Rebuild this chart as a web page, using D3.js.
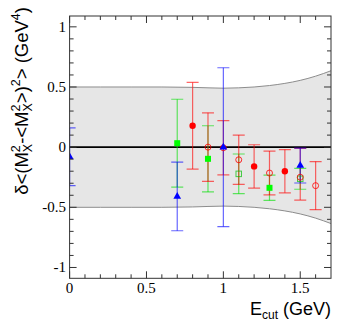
<!DOCTYPE html>
<html><head><meta charset="utf-8">
<script src="https://cdn.jsdelivr.net/npm/d3@7"></script>
<style>body{margin:0;background:#fff}svg{display:block}</style>
</head><body><svg id="c" width="349" height="332"></svg>
<script>
// ---- data ----
const xTicks = [0, 0.5, 1, 1.5];
const yTicks = [-1, -0.5, 0, 0.5, 1];
const xTickLabels = ["0", "0.5", "1", "1.5"];
const yTickLabels = ["-1", "-0.5", "0", "0.5", "1"];

const bandX  = [0, 0.2, 0.4, 0.6, 0.8, 0.9, 1.0, 1.1, 1.2, 1.3, 1.4, 1.5, 1.6, 1.7];
const bandHi = [0.5, 0.5, 0.5, 0.5, 0.497, 0.493, 0.49, 0.493, 0.5, 0.512, 0.53, 0.555, 0.59, 0.635];
const bandLo = [-0.5, -0.5, -0.5, -0.5, -0.497, -0.493, -0.49, -0.493, -0.5, -0.512, -0.53, -0.555, -0.59, -0.635];

// green filled squares
const gFillX = [0.7, 0.9, 1.3];
const gFillY = [0.033, -0.097, -0.338];
const gFillErr = [0.365, 0.275, 0.105];
// green open squares
const gOpenX = [1.1, 1.5];
const gOpenY = [-0.222, -0.263];
const gOpenErr = [0.165, 0.087];
// red filled circles
const rFillX = [0.8, 1.2, 1.4];
const rFillY = [0.178, -0.16, -0.2];
const rFillErr = [0.36, 0.18, 0.18];
// red open circles
const rOpenX = [0.9, 1.0, 1.1, 1.3, 1.5, 1.6];
const rOpenY = [0.0, -0.005, -0.105, -0.215, -0.25, -0.32];
const rOpenErrUp = [0.285, 0.225, 0.205, 0.182, 0.24, 0.2];
const rOpenErrDn = [0.285, 0.225, 0.205, 0.182, 0.19, 0.2];
// blue filled triangles
const bX = [0, 0.7, 1.0, 1.5];
const bY = [-0.08, -0.41, 0.0, -0.153];
const bErr = [0.24, 0.285, 0.66, 0.145];

// ---- scales ----
const L = 69.6, R = 331, T = 16, B = 278.3;
const x = d3.scaleLinear().domain([0, 1.7]).range([L, R]);
const y = d3.scaleLinear().domain([-1.09, 1.09]).range([B, T]);

const svg = d3.select("#c");
svg.append("defs").append("clipPath").attr("id", "clip")
  .append("rect").attr("x", L).attr("y", T).attr("width", R - L).attr("height", B - T);
const plot = svg.append("g").attr("clip-path", "url(#clip)");

// band
const bandData = bandX.map((v, i) => ({x: v, hi: bandHi[i], lo: bandLo[i]}));
plot.append("path").datum(bandData)
  .attr("d", d3.area().x(d => x(d.x)).y0(d => y(d.lo)).y1(d => y(d.hi)).curve(d3.curveMonotoneX))
  .attr("fill", "#e6e6e6");
["hi", "lo"].forEach(k => {
  plot.append("path").datum(bandData)
    .attr("d", d3.line().x(d => x(d.x)).y(d => y(d[k])).curve(d3.curveMonotoneX))
    .attr("fill", "none").attr("stroke", "#8c8c8c").attr("stroke-width", 1);
});
// zero line
plot.append("line").attr("x1", x(0)).attr("x2", x(1.7)).attr("y1", y(0)).attr("y2", y(0))
  .attr("stroke", "#000").attr("stroke-width", 1.6);

const cap = 6;
function errBars(xs, ys, up, dn, color) {
  const g = plot.append("g").attr("stroke", color).attr("stroke-opacity", 0.6).attr("stroke-width", 1.2);
  xs.forEach((v, i) => {
    const top = y(ys[i] + up[i]), bot = y(ys[i] - dn[i]), cx = x(v);
    g.append("line").attr("x1", cx).attr("x2", cx).attr("y1", top).attr("y2", bot);
    g.append("line").attr("x1", cx - cap).attr("x2", cx + cap).attr("y1", top).attr("y2", top);
    g.append("line").attr("x1", cx - cap).attr("x2", cx + cap).attr("y1", bot).attr("y2", bot);
  });
}
function squares(xs, ys, color, filled) {
  const s = filled ? 6 : 5.5;
  plot.append("g").selectAll("rect").data(xs).join("rect")
    .attr("x", (d) => x(d) - s / 2).attr("y", (d, i) => y(ys[i]) - s / 2)
    .attr("width", s).attr("height", s)
    .attr("fill", filled ? color : "none").attr("stroke", filled ? "none" : color)
    .attr("stroke-opacity", 0.7).attr("stroke-width", 1);
}
function circles(xs, ys, color, filled) {
  plot.append("g").selectAll("circle").data(xs).join("circle")
    .attr("cx", d => x(d)).attr("cy", (d, i) => y(ys[i])).attr("r", filled ? 3.2 : 3)
    .attr("fill", filled ? color : "none").attr("stroke", filled ? "none" : color)
    .attr("stroke-opacity", 0.8).attr("stroke-width", 1);
}
function triangles(xs, ys, color) {
  const sym = d3.symbol().type(d3.symbolTriangle).size(26);
  plot.append("g").selectAll("path").data(xs).join("path")
    .attr("d", sym).attr("transform", (d, i) => `translate(${x(d)},${y(ys[i])})`)
    .attr("fill", color);
}

errBars(gFillX, gFillY, gFillErr, gFillErr, "#00e000");
errBars(gOpenX, gOpenY, gOpenErr, gOpenErr, "#00e000");
errBars(rFillX, rFillY, rFillErr, rFillErr, "#ff0000");
errBars(rOpenX, rOpenY, rOpenErrUp, rOpenErrDn, "#ff0000");
errBars(bX, bY, bErr, bErr, "#0000ff");
squares(gFillX, gFillY, "#00ff00", true);
squares(gOpenX, gOpenY, "#00c000", false);
circles(rFillX, rFillY, "#ff0000", true);
circles(rOpenX, rOpenY, "#ff0000", false);
triangles(bX, bY, "#0000ff");

// frame & ticks
const ax = svg.append("g").attr("stroke", "#333").attr("stroke-width", 1);
ax.append("rect").attr("x", L).attr("y", T).attr("width", R - L).attr("height", B - T).attr("fill", "none");
d3.range(0, 17).map(i => i / 10).forEach(v => {
  const major = xTicks.some(t => Math.abs(t - v) < 1e-9);
  const len = major ? 7 : 4;
  ax.append("line").attr("x1", x(v)).attr("x2", x(v)).attr("y1", B).attr("y2", B - len);
  ax.append("line").attr("x1", x(v)).attr("x2", x(v)).attr("y1", T).attr("y2", T + len);
});
d3.range(-10, 11).map(i => i / 10).forEach(v => {
  const major = yTicks.some(t => Math.abs(t - v) < 1e-9);
  const len = major ? 7 : 4;
  ax.append("line").attr("x1", L).attr("x2", L + len).attr("y1", y(v)).attr("y2", y(v));
  ax.append("line").attr("x1", R).attr("x2", R - len).attr("y1", y(v)).attr("y2", y(v));
});

// tick labels
svg.append("g").selectAll("text").data(xTicks).join("text")
  .attr("x", d => x(d)).attr("y", 293).attr("text-anchor", "middle")
  .attr("font-family", "Liberation Serif").attr("font-size", 15).attr("fill", "#000")
  .text((d, i) => xTickLabels[i]);
svg.append("g").selectAll("text").data(yTicks).join("text")
  .attr("x", 66).attr("y", d => y(d) + 5).attr("text-anchor", "end")
  .attr("font-family", "Liberation Serif").attr("font-size", 15).attr("fill", "#000")
  .text((d, i) => yTickLabels[i]);

// x title
const xt = svg.append("text").attr("x", 331).attr("y", 315).attr("text-anchor", "end")
  .attr("font-family", "Liberation Sans").attr("font-size", 18).attr("fill", "#000");
xt.append("tspan").text("E");
xt.append("tspan").attr("font-size", 12).attr("dy", 4).text("cut");
xt.append("tspan").attr("dy", -4).text(" (GeV)");

// y title
const yt = svg.append("text").attr("transform", "translate(28,7) rotate(-90)").attr("text-anchor", "end")
  .attr("font-family", "Liberation Sans").attr("font-size", 18.5).attr("fill", "#000");
yt.append("tspan").text("δ<(M");
yt.append("tspan").attr("font-size", 12.5).attr("dy", -8).text("2");
yt.append("tspan").attr("font-size", 12.5).attr("dx", -7).attr("dy", 12).text("X");
yt.append("tspan").attr("dy", -4).text("-<M");
yt.append("tspan").attr("font-size", 12.5).attr("dy", -8).text("2");
yt.append("tspan").attr("font-size", 12.5).attr("dx", -7).attr("dy", 12).text("X");
yt.append("tspan").attr("dy", -4).text(">)");
yt.append("tspan").attr("font-size", 12.5).attr("dy", -8).text("2");
yt.append("tspan").attr("dy", 8).text("> (GeV");
yt.append("tspan").attr("font-size", 12.5).attr("dy", -8).text("4");
yt.append("tspan").attr("dy", 8).text(")");
</script></body></html>
